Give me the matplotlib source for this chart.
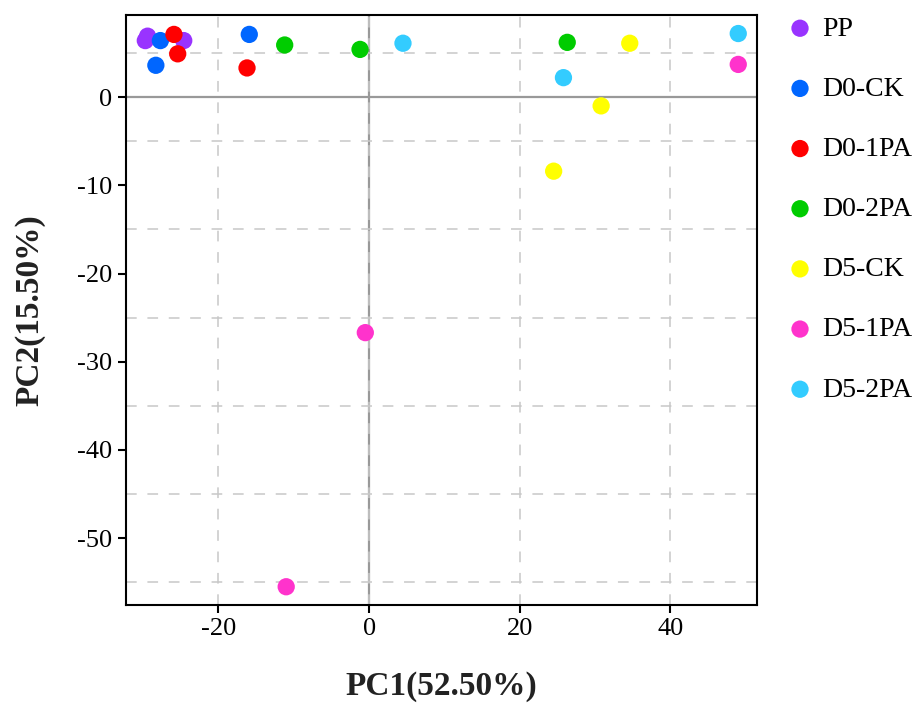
import numpy as np
import matplotlib
matplotlib.use('Agg')
import matplotlib.pyplot as plt
from matplotlib.ticker import MultipleLocator

plt.rcParams['font.family'] = ['Liberation Serif', 'DejaVu Serif']
plt.rcParams['axes.unicode_minus'] = False

# PCA scores
groups = ['PP', 'D0-CK', 'D0-1PA', 'D0-2PA', 'D5-CK', 'D5-1PA', 'D5-2PA']
colors = ['#9933FF', '#0066FF', '#FF0000', '#00CC00', '#FFFF00', '#FF33CC', '#33CCFF']

pc1 = {
    'PP':     [-29.7, -29.4, -24.6],
    'D0-CK':  [-27.7, -28.3, -15.9],
    'D0-1PA': [-25.9, -25.4, -16.2],
    'D0-2PA': [-11.2, -1.2, 26.3],
    'D5-CK':  [34.6, 30.8, 24.5],
    'D5-1PA': [49.0, -0.5, -11.0],
    'D5-2PA': [4.5, 49.0, 25.8],
}
pc2 = {
    'PP':     [6.4, 6.9, 6.4],
    'D0-CK':  [6.4, 3.6, 7.1],
    'D0-1PA': [7.1, 4.9, 3.3],
    'D0-2PA': [5.9, 5.4, 6.2],
    'D5-CK':  [6.1, -1.0, -8.4],
    'D5-1PA': [3.7, -26.7, -55.5],
    'D5-2PA': [6.1, 7.2, 2.2],
}

fig = plt.figure(figsize=(9.19, 7.11), dpi=100)
ax = fig.add_axes([0.1368, 0.1487, 0.6866, 0.8302])

for g, c in zip(groups, colors):
    ax.scatter(pc1[g], pc2[g], s=155, color=c, edgecolors='none', label=g, zorder=3)

ax.set_xlim(-32.3, 51.45)
ax.set_ylim(-57.6, 9.3)

ax.xaxis.set_major_locator(MultipleLocator(20))
ax.yaxis.set_major_locator(MultipleLocator(10))
ax.yaxis.set_minor_locator(MultipleLocator(5))

dash = (0, (7, 7))
ax.grid(True, which='major', axis='x', color='#c8c8c8', lw=1.1, linestyle=dash, zorder=0)
ax.grid(True, which='minor', axis='y', color='#c8c8c8', lw=1.1, linestyle=dash, zorder=0)
ax.axhline(0, color='#999999', lw=1.6, zorder=1)
ax.axvline(0, color='#999999', lw=1.6, zorder=1)

for sp in ax.spines.values():
    sp.set_color('black')
    sp.set_linewidth(1.5)

ax.tick_params(which='major', direction='out', length=6, width=1.5, labelsize=19, color='black')
ax.tick_params(which='minor', length=0)

ax.set_xlabel('PC1(52.50%)', fontsize=24, fontweight='bold', labelpad=22, color='#222222')
ax.set_ylabel('PC2(15.50%)', fontsize=24, fontweight='bold', labelpad=23, color='#222222')

ax.legend(loc='upper left', bbox_to_anchor=(1.029, 1.017), frameon=False, fontsize=20,
          labelspacing=1.25, handlelength=1.0, handletextpad=0.3, borderaxespad=0)

fig.savefig('out.png', dpi=100)
